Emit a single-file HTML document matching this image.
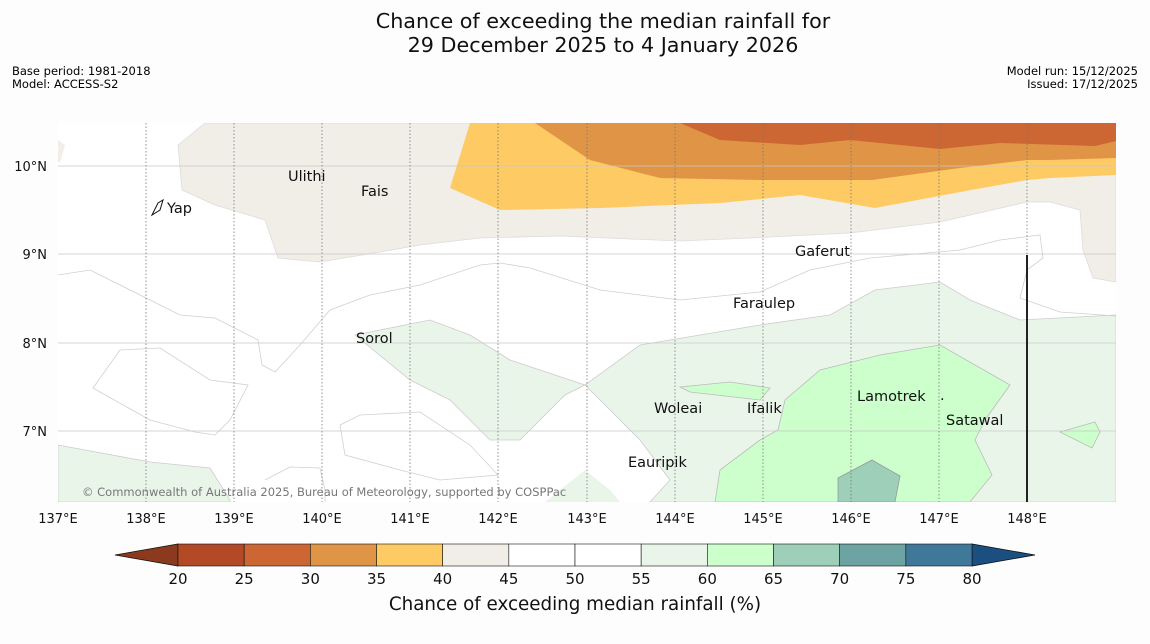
<!DOCTYPE html>
<html><head><meta charset="utf-8">
<style>
body{margin:0;background:#fdfdfd;font-family:"DejaVu Sans","Liberation Sans",sans-serif;}
svg{display:block;font-family:"DejaVu Sans","Liberation Sans",sans-serif;}
</style></head><body>
<svg width="1150" height="644" viewBox="0 0 1150 644">
<text x="603" y="28" text-anchor="middle" font-size="20.7" fill="#111">Chance of exceeding the median rainfall for</text>
<text x="603" y="52" text-anchor="middle" font-size="20.7" fill="#111">29 December 2025 to 4 January 2026</text>
<text x="12" y="75" font-size="11.5">Base period: 1981-2018</text>
<text x="12" y="88" font-size="11.5">Model: ACCESS-S2</text>
<text x="1138" y="75" font-size="11.5" text-anchor="end">Model run: 15/12/2025</text>
<text x="1138" y="88" font-size="11.5" text-anchor="end">Issued: 17/12/2025</text>
<g id="map">
<clipPath id="cp"><rect x="58" y="123" width="1058" height="379"/></clipPath>
<g clip-path="url(#cp)">
<rect x="58" y="123" width="1058" height="379" fill="#fff"/>
<polygon fill="#f1ede7" stroke="#ddd" stroke-width="0.8" points="178,145 205,123 1116,123 1116,282 1093,278 1083,250 1080,210 1050,202 1027,202 940,222 850,233 750,238 680,241 560,236 480,238 420,245 380,252 320,262 278,258 265,220 215,205 182,190"/>
<polygon fill="#f1ede7" points="58,140 65,145 60,162 58,162"/>
<polygon fill="#fff" points="105,123 145,123 145,133 120,134"/>
<polygon fill="#fdca63" points="470,123 1116,123 1116,175 1050,178 1027,180 960,192 875,208 800,195 720,203 600,208 500,210 450,188"/>
<polygon fill="#e09445" points="535,123 1116,123 1116,158 1050,160 1027,160 960,168 872,180 760,180 660,178 590,160"/>
<polygon fill="#cc6633" points="680,123 1116,123 1116,141 1095,146 1000,143 940,149 850,140 800,145 720,140"/>
<polygon fill="#eaf5ea" stroke="#ccc" stroke-width="0.8" points="355,335 430,320 470,335 510,360 585,385 640,345 760,325 830,315 875,290 940,282 970,300 1020,320 1116,315 1116,502 650,502 670,480 640,440 600,400 585,385 565,395 520,440 490,440 450,400 410,380"/>
<polygon fill="#eaf5ea" stroke="#ccc" stroke-width="0.8" points="58,445 150,462 210,468 230,500 230,502 58,502"/>
<polygon fill="#eaf5ea" points="545,502 585,470 610,490 620,502"/>
<polygon fill="#ccffcc" stroke="#bbb" stroke-width="0.8" points="715,502 720,470 760,440 778,430 785,400 820,370 880,355 940,345 1010,385 985,420 975,440 992,475 970,502"/>
<polygon fill="#ccffcc" stroke="#bbb" stroke-width="0.8" points="680,387 730,382 770,388 760,400 690,392"/>
<polygon fill="#ccffcc" stroke="#bbb" stroke-width="0.8" points="1060,432 1095,422 1100,432 1092,448"/>
<polygon fill="#9ecfb9" stroke="#999" stroke-width="0.8" points="838,478 872,460 900,476 895,502 838,502"/>
<g fill="none" stroke="#d0d0d0" stroke-width="0.8">
<polyline points="58,275 90,270 150,300 180,315 215,318 258,340 262,365 275,372 300,345 330,310 370,295 420,285 480,265 500,263 530,268 600,290 680,300 760,292 810,270 870,258 960,250 1000,240 1040,235 1043,258 1027,270 1020,298 1060,312 1116,316"/>
<polyline points="93,388 120,350 160,348 210,380 248,385 230,420 215,435 195,432 150,420 100,392 93,388"/>
<polyline points="340,425 360,415 420,412 470,445 498,475 440,480 400,470 345,455 340,425"/>
<polyline points="265,480 290,467 320,468 325,490 325,502"/>
</g>
</g>
<g stroke="#c8c8c8" stroke-width="0.8">
<line x1="58" y1="166" x2="1116" y2="166"/><line x1="58" y1="254" x2="1116" y2="254"/><line x1="58" y1="343" x2="1116" y2="343"/><line x1="58" y1="431" x2="1116" y2="431"/>
</g>
<g stroke="#777" stroke-width="0.8" stroke-dasharray="1.5,2">
<line x1="146" y1="123" x2="146" y2="502"/><line x1="234" y1="123" x2="234" y2="502"/><line x1="322" y1="123" x2="322" y2="502"/><line x1="410" y1="123" x2="410" y2="502"/><line x1="498" y1="123" x2="498" y2="502"/><line x1="587" y1="123" x2="587" y2="502"/><line x1="675" y1="123" x2="675" y2="502"/><line x1="763" y1="123" x2="763" y2="502"/><line x1="851" y1="123" x2="851" y2="502"/><line x1="939" y1="123" x2="939" y2="502"/><line x1="1027" y1="123" x2="1027" y2="502"/>
</g>
<line x1="1027" y1="255" x2="1027" y2="502" stroke="#222" stroke-width="2"/>
<g font-size="14.5" fill="#111">
<path d="M152,215 L158,203 L163,200 L160,210 Z" fill="none" stroke="#111"/>
<text x="167" y="213">Yap</text>
<text x="288" y="181">Ulithi</text><text x="361" y="196">Fais</text>
<text x="795" y="256">Gaferut</text><text x="733" y="308">Faraulep</text>
<text x="356" y="343">Sorol</text><text x="654" y="413">Woleai</text>
<text x="747" y="413">Ifalik</text><text x="857" y="401">Lamotrek</text>
<text x="946" y="425">Satawal</text><text x="628" y="467">Eauripik</text>
<text x="940" y="400">.</text>
</g>
<text x="82" y="496" font-size="11.5" fill="#777">© Commonwealth of Australia 2025, Bureau of Meteorology, supported by COSPPac</text>
<g font-size="13" fill="#111" text-anchor="end">
<text x="47" y="171">10°N</text><text x="47" y="259">9°N</text><text x="47" y="348">8°N</text><text x="47" y="436">7°N</text>
</g>
<g font-size="13" fill="#111" text-anchor="middle">
<text x="58" y="523">137°E</text><text x="146" y="523">138°E</text><text x="234" y="523">139°E</text><text x="322" y="523">140°E</text><text x="410" y="523">141°E</text><text x="498" y="523">142°E</text><text x="587" y="523">143°E</text><text x="675" y="523">144°E</text><text x="763" y="523">145°E</text><text x="851" y="523">146°E</text><text x="939" y="523">147°E</text><text x="1027" y="523">148°E</text>
</g>
</g>
<g id="cbar"></g>
<text x="575" y="610" font-size="18.3" text-anchor="middle" fill="#111">Chance of exceeding median rainfall (%)</text>
</svg>
<script>
const ticks=[20,25,30,35,40,45,50,55,60,65,70,75,80];
const colors=["#b34a26","#cc6633","#e09445","#fdca63","#f1ede7","#ffffff","#ffffff","#eaf5ea","#ccffcc","#9ecfb9","#6da3a3","#3f7898"];
const NS="http://www.w3.org/2000/svg";
const g=document.getElementById('cbar');
const x=v=>178+(v-20)*(972-178)/60;
function mk(t,a){const e=document.createElementNS(NS,t);for(const k in a)e.setAttribute(k,a[k]);g.appendChild(e);return e;}
const lt=mk('polygon',{points:"115,555 178,544 178,566",fill:"#8b3a1e",stroke:"#111","stroke-width":0.8});


const rt=mk('polygon',{points:"1035,555 972,544 972,566",fill:"#1a4f80",stroke:"#111","stroke-width":0.8});


colors.forEach((c,i)=>{
 const r=mk('rect',{x:x(ticks[i]),y:544,width:x(ticks[i+1])-x(ticks[i]),height:22,fill:c,stroke:"#111","stroke-width":0.6});
 
 
});
ticks.forEach(v=>{
 const t=mk('text',{x:x(v),y:584,"font-size":15,"text-anchor":"middle",fill:"#111"});
 t.textContent=v;
 
 
});
</script>
</body></html>
